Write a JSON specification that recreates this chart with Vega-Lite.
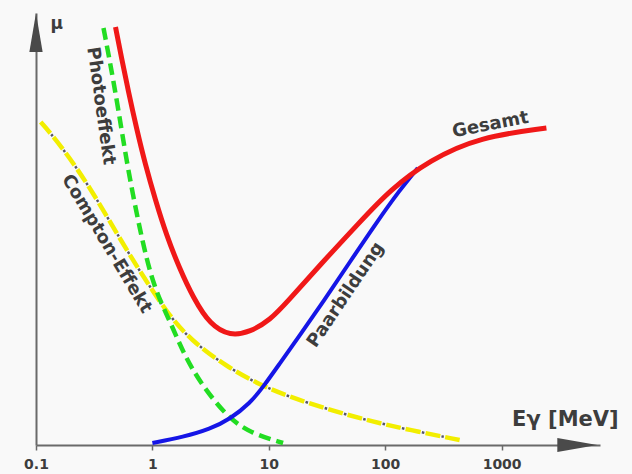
{
  "$schema": "https://vega.github.io/schema/vega-lite/v6.json",
  "width": 564,
  "height": 432,
  "autosize": {"type": "none"},
  "padding": {"left": 36, "top": 13, "right": 32, "bottom": 29},
  "background": "#f9f9f9",
  "config": {"view": {"stroke": null}},
  "datasets": {
    "curves": [
      {"series": "Gesamt", "E": 0.482, "mu": 418},
      {"series": "Gesamt", "E": 0.543, "mu": 387},
      {"series": "Gesamt", "E": 0.623, "mu": 353},
      {"series": "Gesamt", "E": 0.729, "mu": 317},
      {"series": "Gesamt", "E": 0.871, "mu": 280},
      {"series": "Gesamt", "E": 1.061, "mu": 245},
      {"series": "Gesamt", "E": 1.318, "mu": 210},
      {"series": "Gesamt", "E": 1.704, "mu": 177},
      {"series": "Gesamt", "E": 2.246, "mu": 147},
      {"series": "Gesamt", "E": 3.14, "mu": 120},
      {"series": "Gesamt", "E": 4.66, "mu": 109},
      {"series": "Gesamt", "E": 6.92, "mu": 113},
      {"series": "Gesamt", "E": 10.26, "mu": 125},
      {"series": "Gesamt", "E": 14.35, "mu": 143},
      {"series": "Gesamt", "E": 27.5, "mu": 180},
      {"series": "Gesamt", "E": 60.6, "mu": 223},
      {"series": "Gesamt", "E": 109.5, "mu": 255},
      {"series": "Gesamt", "E": 241, "mu": 285},
      {"series": "Gesamt", "E": 646, "mu": 308},
      {"series": "Gesamt", "E": 2425, "mu": 317},
      {"series": "Photoeffekt", "E": 0.38, "mu": 417},
      {"series": "Photoeffekt", "E": 0.437, "mu": 380},
      {"series": "Photoeffekt", "E": 0.511, "mu": 335},
      {"series": "Photoeffekt", "E": 0.611, "mu": 278},
      {"series": "Photoeffekt", "E": 0.789, "mu": 212},
      {"series": "Photoeffekt", "E": 1.02, "mu": 158},
      {"series": "Photoeffekt", "E": 1.427, "mu": 123},
      {"series": "Photoeffekt", "E": 1.843, "mu": 92},
      {"series": "Photoeffekt", "E": 2.578, "mu": 62},
      {"series": "Photoeffekt", "E": 4.39, "mu": 28},
      {"series": "Photoeffekt", "E": 6.92, "mu": 12},
      {"series": "Photoeffekt", "E": 13.26, "mu": 2},
      {"series": "Compton", "E": 0.1097, "mu": 323},
      {"series": "Compton", "E": 0.1628, "mu": 300},
      {"series": "Compton", "E": 0.294, "mu": 257},
      {"series": "Compton", "E": 0.532, "mu": 205},
      {"series": "Compton", "E": 0.871, "mu": 165},
      {"series": "Compton", "E": 1.344, "mu": 132},
      {"series": "Compton", "E": 2.117, "mu": 105},
      {"series": "Compton", "E": 4.39, "mu": 78},
      {"series": "Compton", "E": 8.42, "mu": 60},
      {"series": "Compton", "E": 15.22, "mu": 48},
      {"series": "Compton", "E": 33.5, "mu": 35},
      {"series": "Compton", "E": 73.8, "mu": 24},
      {"series": "Compton", "E": 162.5, "mu": 15},
      {"series": "Compton", "E": 435.8, "mu": 5},
      {"series": "Paarbildung", "E": 1.0, "mu": 2},
      {"series": "Paarbildung", "E": 1.843, "mu": 8},
      {"series": "Paarbildung", "E": 3.14, "mu": 16},
      {"series": "Paarbildung", "E": 4.66, "mu": 26},
      {"series": "Paarbildung", "E": 6.92, "mu": 42},
      {"series": "Paarbildung", "E": 8.94, "mu": 58},
      {"series": "Paarbildung", "E": 12.5, "mu": 82},
      {"series": "Paarbildung", "E": 18.55, "mu": 110},
      {"series": "Paarbildung", "E": 29.2, "mu": 143},
      {"series": "Paarbildung", "E": 49.7, "mu": 183},
      {"series": "Paarbildung", "E": 84.8, "mu": 223},
      {"series": "Paarbildung", "E": 133.4, "mu": 255},
      {"series": "Paarbildung", "E": 190.3, "mu": 277}
    ],
    "arrows": [
      {"axis": "y", "E": 0.1, "mu": 412.5},
      {"axis": "x", "E": 4470, "mu": 0}
    ],
    "labels": [
      {"label": "Photoeffekt", "E": 0.3585, "mu": 339},
      {"label": "Compton-Effekt", "E": 0.403, "mu": 201},
      {"label": "Paarbildung", "E": 45.96, "mu": 150},
      {"label": "Gesamt", "E": 803, "mu": 320},
      {"label": "Eγ [MeV]", "E": 3530, "mu": 25},
      {"label": "μ", "E": 0.1504, "mu": 421}
    ]
  },
  "encoding": {
    "x": {
      "field": "E",
      "type": "quantitative",
      "scale": {"type": "log", "domain": [0.1, 7000], "nice": false},
      "axis": {
        "title": null,
        "grid": false,
        "values": [0.1, 1, 10, 100, 1000],
        "labelExpr": "datum.value < 1 ? '0.1' : format(datum.value, 'd')",
        "domainColor": "#6a6a6a",
        "domainWidth": 2,
        "tickColor": "#6a6a6a",
        "tickSize": 5,
        "tickWidth": 1.5,
        "labelFont": "DejaVu Sans",
        "labelFontWeight": "bold",
        "labelFontSize": 14,
        "labelColor": "#3d3d3d",
        "labelPadding": 7,
        "labelFlush": false,
        "labelOverlap": false
      }
    },
    "y": {
      "field": "mu",
      "type": "quantitative",
      "scale": {"domain": [0, 432], "nice": false, "zero": false},
      "axis": {
        "title": null,
        "grid": false,
        "ticks": false,
        "labels": false,
        "domainColor": "#6a6a6a",
        "domainWidth": 2
      }
    }
  },
  "layer": [
    {
      "data": {"name": "curves"},
      "transform": [{"filter": "datum.series == 'Compton'"}],
      "mark": {"type": "line", "interpolate": "basis", "color": "#f2ee00", "strokeWidth": 4.5, "strokeDash": [15, 5]}
    },
    {
      "data": {"name": "curves"},
      "transform": [{"filter": "datum.series == 'Compton'"}],
      "mark": {"type": "line", "interpolate": "basis", "color": "#555566", "strokeWidth": 2.5, "strokeDash": [2.5, 17.5], "strokeDashOffset": 3.75}
    },
    {
      "data": {"name": "curves"},
      "transform": [{"filter": "datum.series == 'Photoeffekt'"}],
      "mark": {"type": "line", "interpolate": "basis", "color": "#22dd22", "strokeWidth": 4.5, "strokeDash": [12, 6]}
    },
    {
      "data": {"name": "curves"},
      "transform": [{"filter": "datum.series == 'Paarbildung'"}],
      "mark": {"type": "line", "interpolate": "basis", "color": "#1515e6", "strokeWidth": 4}
    },
    {
      "data": {"name": "curves"},
      "transform": [{"filter": "datum.series == 'Gesamt'"}],
      "mark": {"type": "line", "interpolate": "basis", "color": "#f01818", "strokeWidth": 5}
    },
    {
      "data": {"name": "arrows"},
      "transform": [{"filter": "datum.axis == 'y'"}],
      "mark": {"type": "point", "filled": true, "clip": false, "color": "#4a4a4a", "opacity": 1, "size": 1521, "shape": "M0,-1L0.34,1L-0.34,1Z"}
    },
    {
      "data": {"name": "arrows"},
      "transform": [{"filter": "datum.axis == 'x'"}],
      "mark": {"type": "point", "filled": true, "clip": false, "color": "#4a4a4a", "opacity": 1, "size": 1600, "shape": "M1,0L-1,-0.35L-1,0.35Z"}
    },
    {
      "data": {"name": "labels"},
      "transform": [{"filter": "datum.label == 'Photoeffekt'"}],
      "mark": {"type": "text", "angle": 82, "font": "DejaVu Sans", "fontWeight": "bold", "fontSize": 18, "color": "#3d3d3d", "align": "center", "baseline": "middle"},
      "encoding": {"text": {"field": "label"}}
    },
    {
      "data": {"name": "labels"},
      "transform": [{"filter": "datum.label == 'Compton-Effekt'"}],
      "mark": {"type": "text", "angle": 59, "font": "DejaVu Sans", "fontWeight": "bold", "fontSize": 18, "color": "#3d3d3d", "align": "center", "baseline": "middle"},
      "encoding": {"text": {"field": "label"}}
    },
    {
      "data": {"name": "labels"},
      "transform": [{"filter": "datum.label == 'Paarbildung'"}],
      "mark": {"type": "text", "angle": 304, "font": "DejaVu Sans", "fontWeight": "bold", "fontSize": 18, "color": "#3d3d3d", "align": "center", "baseline": "middle"},
      "encoding": {"text": {"field": "label"}}
    },
    {
      "data": {"name": "labels"},
      "transform": [{"filter": "datum.label == 'Gesamt'"}],
      "mark": {"type": "text", "angle": 349, "font": "DejaVu Sans", "fontWeight": "bold", "fontSize": 18, "color": "#3d3d3d", "align": "center", "baseline": "middle"},
      "encoding": {"text": {"field": "label"}}
    },
    {
      "data": {"name": "labels"},
      "transform": [{"filter": "datum.label == 'Eγ [MeV]'"}],
      "mark": {"type": "text", "font": "DejaVu Sans", "fontWeight": "bold", "fontSize": 21, "color": "#3d3d3d", "align": "center", "baseline": "middle"},
      "encoding": {"text": {"field": "label"}}
    },
    {
      "data": {"name": "labels"},
      "transform": [{"filter": "datum.label == 'μ'"}],
      "mark": {"type": "text", "font": "DejaVu Sans", "fontWeight": "bold", "fontSize": 17, "color": "#3d3d3d", "align": "center", "baseline": "middle", "clip": false},
      "encoding": {"text": {"field": "label"}}
    }
  ]
}
